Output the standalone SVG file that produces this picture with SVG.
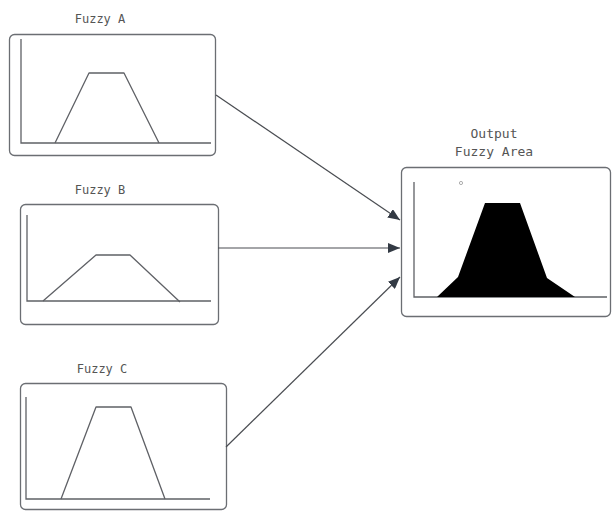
<svg xmlns="http://www.w3.org/2000/svg" width="612" height="512" viewBox="0 0 612 512">
<style>
.box{fill:#fff;stroke:#6b6e73;stroke-width:1.3}
.ax{fill:none;stroke:#5f6166;stroke-width:1.3}
.mf{fill:none;stroke:#5f6166;stroke-width:1.3;stroke-linejoin:round}
.t{font-family:"DejaVu Sans Mono",monospace;font-size:12px;fill:#555;text-anchor:middle}
.t2{font-family:"DejaVu Sans Mono",monospace;font-size:13px;fill:#555;text-anchor:middle}
.c{fill:none;stroke:#4a4d52;stroke-width:1.2}
</style>
<defs>
<marker id="ah" markerWidth="12" markerHeight="10" refX="12" refY="5" orient="auto" markerUnits="userSpaceOnUse">
<path d="M0,0 L12,5 L0,10 Z" fill="#333a44"/>
</marker>
</defs>
<rect width="612" height="512" fill="#fff"/>
<g id="fuzzyA">
<text class="t" x="100" y="23">Fuzzy A</text>
<rect class="box" x="9.5" y="34.5" width="206" height="121" rx="5"/>
<path class="ax" d="M21,39 V143 H211"/>
<path class="mf" d="M55,143 L89,73 L124,73 L159,143"/>
</g>
<g id="fuzzyB">
<text class="t" x="100" y="194">Fuzzy B</text>
<rect class="box" x="20.5" y="204.5" width="198" height="120" rx="5"/>
<path class="ax" d="M27,215 V301 H211"/>
<path class="mf" d="M43,301 L96,255 L130,255 L180,302"/>
</g>
<g id="fuzzyC">
<text class="t" x="102" y="373">Fuzzy C</text>
<rect class="box" x="20.5" y="383.5" width="206" height="126" rx="5"/>
<path class="ax" d="M26,397 V499 H210"/>
<path class="mf" d="M61,499 L96,407 L131,407 L165,499"/>
</g>
<g id="output">
<text class="t2" x="494" y="138">Output</text>
<text class="t2" x="494" y="156">Fuzzy Area</text>
<rect class="box" x="401.5" y="167.5" width="209" height="149" rx="5"/>
<path class="ax" d="M414,182 V297 H607"/>
<path d="M437,297 L458,277 L485,203 L520,203 L547,278 L575,297 Z" fill="#000"/>
<circle cx="461" cy="183" r="1.6" fill="none" stroke="#999" stroke-width="0.8"/>
</g>
<g id="connectors">
<line class="c" x1="216" y1="95" x2="400" y2="220" marker-end="url(#ah)"/>
<line class="c" x1="218" y1="248" x2="400" y2="248" marker-end="url(#ah)"/>
<line class="c" x1="226" y1="447" x2="400" y2="277" marker-end="url(#ah)"/>
</g>
</svg>
